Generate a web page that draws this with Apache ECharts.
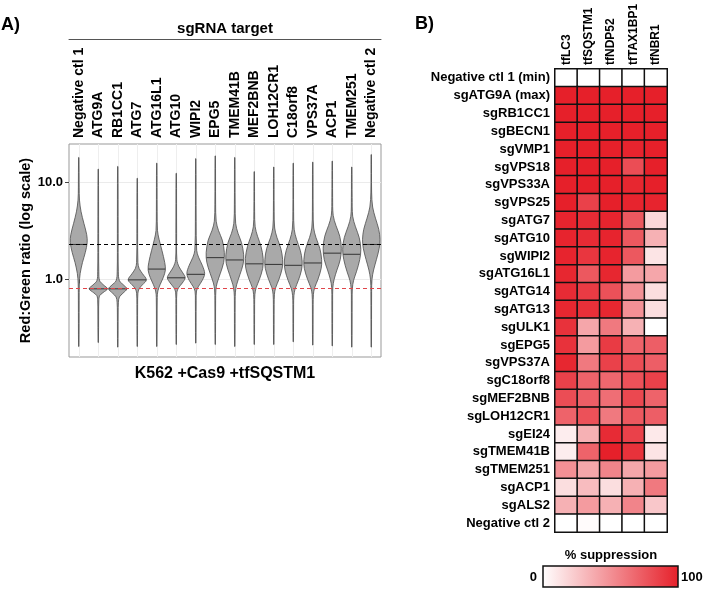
<!DOCTYPE html>
<html>
<head>
<meta charset="utf-8">
<script src="https://cdn.jsdelivr.net/npm/echarts@6/dist/echarts.min.js"></script>
<style>
  html, body { margin: 0; padding: 0; background: #fff; }
  #chart { width: 703px; height: 589px; }
</style>
</head>
<body>
<div id="chart"></div>
<script>
// ---- panel A: violins (values are Red:Green ratios) ----
const violinNames = ['Negative ctl 1', 'ATG9A', 'RB1CC1', 'ATG7', 'ATG16L1', 'ATG10', 'WIPI2', 'EPG5',
  'TMEM41B', 'MEF2BNB', 'LOH12CR1', 'C18orf8', 'VPS37A', 'ACP1', 'TMEM251', 'Negative ctl 2'];
const violinMedians = [2.30, 0.80, 0.80, 0.99, 1.28, 1.04, 1.13, 1.68, 1.59, 1.45, 1.43, 1.40, 1.48, 1.87, 1.82, 2.30];
// density profile per violin: [ratio, relative width], top to bottom
const violinProfiles = [
  [[18.2, .02], [9, .04], [6.6, .08], [5.0, .25], [3.8, .55], [2.9, .85], [2.4, .9], [1.9, .7], [1.5, .4], [1.15, .15], [0.9, .06], [0.6, .04], [0.203, .02]],
  [[13.8, .02], [3, .04], [1.2, .06], [0.97, .15], [0.88, .55], [0.8, .97], [0.73, .5], [0.68, .15], [0.6, .06], [0.45, .04], [0.223, .02]],
  [[14.7, .02], [3, .04], [1.2, .06], [0.97, .18], [0.88, .6], [0.8, .97], [0.72, .55], [0.66, .18], [0.58, .07], [0.45, .04], [0.2, .02]],
  [[11.1, .02], [3, .04], [1.5, .07], [1.3, .2], [1.15, .55], [0.99, .97], [0.88, .55], [0.8, .2], [0.72, .07], [0.55, .04], [0.203, .02]],
  [[15.9, .02], [5, .04], [3.2, .08], [2.6, .25], [2.0, .55], [1.5, .85], [1.25, .92], [1.05, .7], [0.88, .35], [0.76, .12], [0.65, .05], [0.203, .02]],
  [[12.5, .02], [3, .04], [1.6, .07], [1.35, .3], [1.17, .7], [1.04, .95], [0.92, .65], [0.82, .25], [0.74, .07], [0.55, .04], [0.213, .02]],
  [[17.7, .02], [4, .04], [2.0, .1], [1.7, .3], [1.4, .7], [1.15, .95], [0.98, .7], [0.85, .3], [0.76, .08], [0.6, .04], [0.22, .02]],
  [[18.9, .02], [6, .04], [4, .1], [3.2, .35], [2.55, .75], [1.9, .97], [1.5, .9], [1.16, .55], [0.92, .2], [0.78, .07], [0.6, .04], [0.213, .02]],
  [[18.2, .02], [6, .04], [3.8, .1], [3.0, .35], [2.4, .72], [1.8, .95], [1.45, .9], [1.12, .55], [0.88, .2], [0.74, .07], [0.6, .04], [0.203, .02]],
  [[13.0, .02], [5, .04], [3.5, .1], [2.8, .35], [2.2, .72], [1.65, .95], [1.3, .9], [1.0, .55], [0.82, .2], [0.7, .07], [0.55, .04], [0.213, .02]],
  [[14.5, .02], [5, .04], [3.4, .1], [2.7, .35], [2.1, .75], [1.6, .95], [1.3, .9], [1.0, .55], [0.82, .2], [0.7, .07], [0.55, .04], [0.213, .02]],
  [[15.9, .02], [5, .04], [3.3, .1], [2.6, .35], [2.0, .75], [1.55, .95], [1.25, .88], [0.98, .55], [0.8, .2], [0.68, .07], [0.55, .04], [0.227, .02]],
  [[16.3, .02], [5, .04], [3.4, .1], [2.7, .35], [2.1, .75], [1.6, .95], [1.3, .9], [1.0, .55], [0.82, .2], [0.7, .07], [0.55, .04], [0.21, .02]],
  [[16.7, .02], [7, .04], [4.6, .1], [3.6, .4], [2.8, .8], [2.1, .97], [1.6, .85], [1.25, .5], [1.0, .2], [0.82, .06], [0.6, .04], [0.206, .02]],
  [[14.5, .02], [7, .04], [4.5, .1], [3.5, .4], [2.7, .8], [2.05, .97], [1.6, .85], [1.2, .5], [0.98, .2], [0.8, .06], [0.6, .04], [0.2, .02]],
  [[19.5, .02], [8, .04], [5.6, .15], [4.3, .45], [3.3, .8], [2.6, .93], [2.1, .85], [1.6, .55], [1.25, .25], [1.0, .08], [0.75, .04], [0.2, .02]]
];
const yRange = [0.158, 25.1];
const yTickValues = [1, 10];
const negCtlLevel = 2.31;   // black dashed
const maxLevel = 0.81;      // red dashed

// ---- panel B: heatmap ----
const reporters = ['tfLC3', 'tfSQSTM1', 'tfNDP52', 'tfTAX1BP1', 'tfNBR1'];
const sgTargets = ['Negative ctl 1 (min)', 'sgATG9A (max)', 'sgRB1CC1', 'sgBECN1', 'sgVMP1', 'sgVPS18', 'sgVPS33A',
  'sgVPS25', 'sgATG7', 'sgATG10', 'sgWIPI2', 'sgATG16L1', 'sgATG14', 'sgATG13', 'sgULK1', 'sgEPG5', 'sgVPS37A',
  'sgC18orf8', 'sgMEF2BNB', 'sgLOH12CR1', 'sgEI24', 'sgTMEM41B', 'sgTMEM251', 'sgACP1', 'sgALS2', 'Negative ctl 2'];
const suppression = [
  [0, 0, 0, 0, 0],
  [100, 100, 100, 100, 100],
  [100, 100, 100, 100, 100],
  [100, 100, 100, 100, 100],
  [100, 100, 100, 98, 100],
  [100, 100, 100, 80, 100],
  [100, 100, 100, 97, 100],
  [100, 85, 100, 98, 98],
  [98, 95, 98, 75, 18],
  [98, 95, 98, 75, 35],
  [98, 90, 98, 75, 12],
  [97, 75, 97, 45, 40],
  [95, 88, 78, 50, 15],
  [97, 93, 97, 50, 15],
  [92, 40, 60, 35, 0],
  [92, 45, 88, 70, 72],
  [97, 60, 85, 80, 72],
  [85, 70, 68, 78, 85],
  [80, 72, 65, 82, 70],
  [70, 78, 60, 75, 72],
  [8, 35, 95, 85, 10],
  [8, 70, 100, 92, 12],
  [50, 40, 55, 40, 45],
  [15, 30, 15, 35, 60],
  [35, 45, 35, 55, 25],
  [0, 2, 0, 0, 0]
];
const scaleRange = [0, 100];
const heatColors = ['#ffffff', '#e6202a'];

const FONT = 'Liberation Sans, Arial, sans-serif';
const lg = Math.log10;

// relative width at a log value, for the median bar
function densityAt(prof, lv) {
  for (let k = 0; k < prof.length - 1; k++) {
    const a = lg(prof[k][0]), b = lg(prof[k + 1][0]);
    if (lv <= a && lv >= b) {
      const t = (a - lv) / (a - b);
      return prof[k][1] + t * (prof[k + 1][1] - prof[k][1]);
    }
  }
  return 0;
}

function renderViolin(params, api) {
  const i = api.value(0);
  const prof = violinProfiles[i];
  const half = api.size([1, 0])[0] * 0.48;
  const right = [], left = [];
  prof.forEach(([r, d]) => {
    const p = api.coord([i, lg(r)]);
    right.push([p[0] + d * half, p[1]]);
    left.push([p[0] - d * half, p[1]]);
  });
  const med = lg(violinMedians[i]);
  const dm = densityAt(prof, med);
  const c = api.coord([i, med]);
  return {
    type: 'group',
    children: [
      { type: 'polygon', shape: { points: right.concat(left.reverse()), smooth: 0.35 },
        style: { fill: '#a9a9a9', stroke: '#4d4d4d', lineWidth: 0.8 } },
      { type: 'line', shape: { x1: c[0] - dm * half, y1: c[1], x2: c[0] + dm * half, y2: c[1] },
        style: { stroke: '#333', lineWidth: 1 } }
    ]
  };
}

const heatData = [];
suppression.forEach((row, r) => row.forEach((v, c) => heatData.push([c, r, v])));

const boldText = (size) => ({ fontFamily: FONT, fontWeight: 'bold', fontSize: size, color: '#000' });

const chart = echarts.init(document.getElementById('chart'));
chart.setOption({
  animation: false,
  textStyle: { fontFamily: FONT },
  title: [
    { text: 'A)', left: 1, top: 16, padding: 0, textStyle: boldText(18) },
    { text: 'B)', left: 415, top: 15, padding: 0, textStyle: boldText(18) }
  ],
  grid: [
    { left: 69, top: 144, width: 312, height: 213, show: true, borderColor: '#999', borderWidth: 1,
      outerBoundsMode: 'none', containLabel: false },
    { left: 555, top: 69, width: 112, height: 463, outerBoundsMode: 'none', containLabel: false }
  ],
  xAxis: [
    { type: 'category', gridIndex: 0, data: violinNames, position: 'bottom',
      name: 'K562 +Cas9 +tfSQSTM1', nameLocation: 'middle', nameGap: 9, nameTextStyle: boldText(16),
      axisLine: { show: false },
      axisTick: { show: true, alignWithLabel: true, length: 4, lineStyle: { color: '#444' } },
      axisLabel: { show: false },
      splitLine: { show: true, alignWithLabel: true, interval: 0, lineStyle: { color: '#eeeeee', width: 1 } } },
    { type: 'category', gridIndex: 0, data: violinNames, position: 'top',
      axisLine: { show: false }, axisTick: { show: false },
      axisLabel: { rotate: -90, margin: 6, interval: 0, ...boldText(14) } },
    { type: 'category', gridIndex: 0, data: violinNames, position: 'top', offset: 105,
      name: 'sgRNA target', nameLocation: 'middle', nameGap: 3, nameTextStyle: boldText(15),
      axisLine: { show: true, lineStyle: { color: '#555', width: 1 } },
      axisTick: { show: false }, axisLabel: { show: false } },
    { type: 'category', gridIndex: 1, data: reporters, position: 'top',
      axisLine: { show: false }, axisTick: { show: false },
      axisLabel: { rotate: -90, margin: 4, interval: 0, ...boldText(12) } }
  ],
  yAxis: [
    { type: 'value', gridIndex: 0, min: lg(yRange[0]), max: lg(yRange[1]), splitNumber: 5,
      name: 'Red:Green ratio (log scale)', nameLocation: 'middle', nameGap: 33, nameTextStyle: boldText(14.5),
      axisLine: { show: false },
      axisTick: { show: true, length: 4, customValues: yTickValues.map(lg), lineStyle: { color: '#444' } },
      axisLabel: { margin: 6, customValues: yTickValues.map(lg), ...boldText(13),
        formatter: v => Math.abs(v - Math.round(v)) < 1e-6 ? Math.pow(10, v).toFixed(1) : '' },
      splitLine: { show: true, lineStyle: { color: '#ebebeb', width: 1 } } },
    { type: 'category', gridIndex: 1, data: sgTargets, inverse: true,
      axisLine: { show: false }, axisTick: { show: false },
      axisLabel: { margin: 5, interval: 0, ...boldText(13) } }
  ],
  visualMap: {
    type: 'continuous', show: false, min: scaleRange[0], max: scaleRange[1], seriesIndex: 1,
    inRange: { color: heatColors }
  },
  graphic: [
    { type: 'text', x: 611, y: 555, z: 10,
      style: { text: '% suppression', align: 'center', verticalAlign: 'middle',
        font: 'bold 13px ' + FONT, fill: '#000' } },
    { type: 'rect', z: 10, shape: { x: 543, y: 566, width: 135, height: 21 },
      style: { stroke: '#111', lineWidth: 1.5,
        fill: { type: 'linear', x: 0, y: 0, x2: 1, y2: 0,
          colorStops: [{ offset: 0, color: heatColors[0] }, { offset: 1, color: heatColors[1] }] } } },
    { type: 'text', x: 537, y: 577, z: 10,
      style: { text: String(scaleRange[0]), align: 'right', verticalAlign: 'middle',
        font: 'bold 13px ' + FONT, fill: '#000' } },
    { type: 'text', x: 681, y: 577, z: 10,
      style: { text: String(scaleRange[1]), align: 'left', verticalAlign: 'middle',
        font: 'bold 13px ' + FONT, fill: '#000' } }
  ],
  series: [
    { type: 'custom', xAxisIndex: 0, yAxisIndex: 0, renderItem: renderViolin,
      data: violinNames.map((n, i) => [i, lg(violinMedians[i])]),
      markLine: { silent: true, symbol: 'none', label: { show: false },
        data: [
          { yAxis: lg(negCtlLevel), lineStyle: { color: '#000', type: [4, 3], width: 1 } },
          { yAxis: lg(maxLevel), lineStyle: { color: '#e0454a', type: [4, 3], width: 1 } }
        ] } },
    { type: 'heatmap', xAxisIndex: 3, yAxisIndex: 1, data: heatData,
      itemStyle: { borderColor: '#111', borderWidth: 1.5 },
      emphasis: { disabled: true } }
  ]
});
</script>
</body>
</html>
